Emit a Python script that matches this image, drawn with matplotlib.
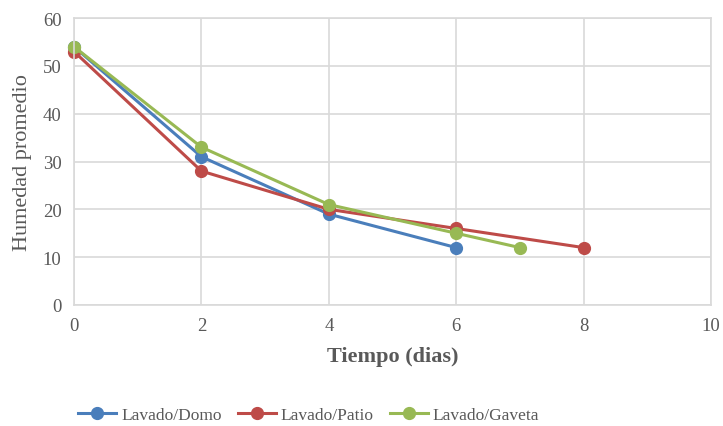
import matplotlib
matplotlib.use("Agg")
from matplotlib import pyplot as plt

plt.rcParams['font.family'] = ['Liberation Serif', 'DejaVu Serif']

dias_domo = [0, 2, 4, 6]
hum_domo = [54, 31, 19, 12]
dias_patio = [0, 2, 4, 6, 8]
hum_patio = [53, 28, 20, 16, 12]
dias_gaveta = [0, 2, 4, 6, 7]
hum_gaveta = [54, 33, 21, 15, 12]

series = [
    (dias_domo, hum_domo, "Lavado/Domo", "#4A7EBB"),
    (dias_patio, hum_patio, "Lavado/Patio", "#BE4B48"),
    (dias_gaveta, hum_gaveta, "Lavado/Gaveta", "#98B954"),
]

fig = plt.figure(figsize=(7.23, 4.27), dpi=100)
ax = fig.add_axes([0.1024, 0.2834, 0.881, 0.672])

for x, y, name, col in series:
    ax.plot(x, y, color=col, lw=2.2, marker="o", ms=8.5, label=name, clip_on=False)

ax.set_xlim(0, 10)
ax.set_ylim(0, 60)
ax.set_xticks(range(0, 11, 2))
ax.set_yticks(range(0, 61, 10))
ax.grid(True, color="#D9D9D9", lw=1.2)
ax.set_axisbelow(True)
for s in ax.spines.values():
    s.set_color("#D9D9D9")
    s.set_linewidth(1.2)
ax.tick_params(length=0, labelsize=13.5, colors="#595959", pad=9)

ax.set_xlabel("Tiempo (dias)", fontsize=16, fontweight="bold", color="#595959", labelpad=8)
ax.set_ylabel("Humedad promedio", fontsize=16, color="#595959", labelpad=8)

fig.legend(loc="lower center", ncol=3, frameon=False, fontsize=12.5,
           bbox_to_anchor=(0.427, -0.03), handlelength=2.2, columnspacing=0.9,
           labelcolor="#595959", handletextpad=0.3)

fig.savefig("out.png", dpi=100)
